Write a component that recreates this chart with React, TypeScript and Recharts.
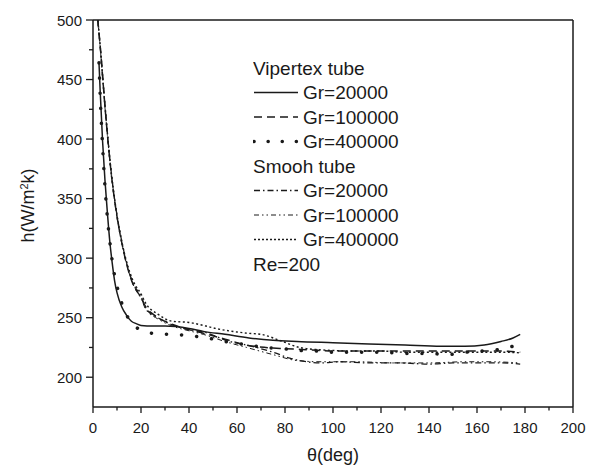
import { LineChart, Line, XAxis, YAxis, ReferenceLine } from 'recharts';

// theta (deg) vs h (W/m2k)
const vip20k: [number, number][] = [
  [2.5, 464], [3, 440], [4, 398], [5, 365], [6, 338], [7, 314], [8, 296], [9, 281], [10, 271],
  [12, 259], [14, 252], [16, 247], [18, 245], [20, 243.5], [25, 243], [30, 243], [40, 241],
  [46, 238.5], [55, 236], [65, 233], [75, 231], [85, 230], [100, 229], [115, 228], [130, 227],
  [145, 226], [155, 226], [163, 227], [170, 230], [175, 233], [178, 236],
];
const vip100k: [number, number][] = [
  [2, 500], [3, 478], [5, 427], [7.5, 373], [10, 335], [12, 313], [14, 295], [16.7, 278],
  [20, 267], [22, 259], [25, 253], [30, 247], [35, 243], [40, 240], [46, 237], [55, 232],
  [64, 227], [72, 225], [80, 224], [90, 223], [100, 222], [120, 222], [140, 222], [160, 222],
  [170, 222], [178, 221],
];
const vip400k: [number, number][] = [
  [2.5, 464], [3, 436], [4, 394], [5, 360], [6, 334], [7, 314], [8.75, 288], [10.3, 274],
  [12, 262], [14.6, 250], [19.6, 240], [26.5, 236.5], [33, 236], [40, 235], [46, 233.5],
  [55, 230], [65, 227], [72, 225], [79, 224], [86, 222.5], [93, 222], [100, 221], [110, 221],
  [120, 221], [130, 220], [140, 220], [148, 219], [155, 221], [162, 222], [168, 223], [175, 226],
];
const smooth20k: [number, number][] = [
  [2, 500], [3, 478], [5, 428], [7.5, 374], [10, 336], [12, 314], [14, 296], [16.7, 279],
  [20, 268], [22, 258], [27, 250], [33, 244], [40, 240], [46, 238], [57, 230], [64, 227],
  [75, 221], [82, 216], [89, 213], [95, 212], [103, 213], [115, 212], [128, 212], [140, 211],
  [150, 212], [160, 212], [170, 212], [178, 211],
];
const smooth100k: [number, number][] = [
  [2, 500], [3, 477], [5, 426], [7.5, 372], [10, 334], [12, 312], [14, 295], [16.7, 278],
  [20, 266], [22, 257], [27, 249], [33, 243], [40, 239], [46, 236], [55, 230], [64, 225],
  [75, 219], [85, 214], [95, 213], [110, 213], [125, 212], [140, 212], [155, 213], [165, 213],
  [178, 212],
];
const smooth400k: [number, number][] = [
  [2, 500], [3, 478], [5, 428], [7.5, 374], [10, 336], [12, 314], [14, 297], [16.7, 281],
  [20, 270], [22, 262], [27, 253], [33, 247], [40, 246], [47, 243], [51, 241], [60, 238],
  [64, 237], [70, 236], [79, 230], [86, 225], [95, 223], [110, 222], [120, 222], [130, 221],
  [140, 221], [150, 221], [160, 221], [170, 221], [178, 220.5],
];

const xTicks = [0, 10, 20, 30, 40, 50, 60, 70, 80, 90, 100, 110, 120, 130, 140, 150, 160, 170, 180, 190, 200];
const yTicks = [200, 225, 250, 275, 300, 325, 350, 375, 400, 425, 450, 475, 500];

const ink = '#1a1a1a';
const font = '"Liberation Sans", Arial, sans-serif';

const series = [
  { name: 'Gr=20000', pts: vip20k, dash: undefined, width: 1.5, cap: 'butt', legendDash: undefined },
  { name: 'Gr=100000', pts: vip100k, dash: '8 5', width: 1.5, cap: 'butt', legendDash: '8 5' },
  { name: 'Gr=400000', pts: vip400k, dash: '0.1 15', width: 3.5, cap: 'round', legendDash: '0.1 14' },
  { name: 'Gr=20000', pts: smooth20k, dash: '6 3 1.5 3', width: 1.3, cap: 'butt', legendDash: '6 3 1.5 3' },
  { name: 'Gr=100000', pts: smooth100k, dash: '5 3 1.5 3 1.5 3', width: 1, cap: 'butt', legendDash: '5 3 1.5 3 1.5 3' },
  { name: 'Gr=400000', pts: smooth400k, dash: '2 2.5', width: 1.4, cap: 'butt', legendDash: '2 2' },
];

const XTick = (props: any) => {
  const { x, y, payload } = props;
  const major = payload.value % 20 === 0;
  return (
    <g>
      <line x1={x} x2={x} y1={y} y2={y + (major ? 6 : 3.5)} stroke={ink} strokeWidth={1.3} />
      {major && (
        <text x={x} y={y + 26} textAnchor="middle" fontSize={15} fill={ink} fontFamily={font}>
          {payload.value}
        </text>
      )}
    </g>
  );
};

const YTick = (props: any) => {
  const { x, y, payload } = props;
  const major = payload.value % 50 === 0;
  return (
    <g>
      <line x1={x} x2={x - (major ? 7 : 4)} y1={y} y2={y} stroke={ink} strokeWidth={1.3} />
      {major && (
        <text x={x - 11} y={y + 5.5} textAnchor="end" fontSize={15} fill={ink} fontFamily={font}>
          {payload.value}
        </text>
      )}
    </g>
  );
};

const YLabel = (props: any) => {
  const vb = props.viewBox;
  const cx = vb.x + 28;
  const cy = vb.y + vb.height / 2 - 8;
  return (
    <text x={cx} y={cy} transform={`rotate(-90 ${cx} ${cy})`} textAnchor="middle" dy="0.35em"
      fontSize={18} fill={ink} fontFamily={font}>
      h(W/m<tspan baselineShift="super" fontSize={11}>2</tspan>k)
    </text>
  );
};

const XLabel = (props: any) => {
  const vb = props.viewBox;
  return (
    <text x={vb.x + vb.width / 2} y={vb.y + 54} textAnchor="middle" fontSize={18} fill={ink} fontFamily={font}>
      θ(deg)
    </text>
  );
};

function LegendBox() {
  const rowH = 24.5;
  const rows: any[] = [
    { title: 'Vipertex tube' },
    series[0], series[1], series[2],
    { title: 'Smooh tube' },
    series[3], series[4], series[5],
    { title: 'Re=200' },
  ];
  return (
    <svg width={220} height={230} style={{ position: 'absolute', left: 253, top: 55 }}>
      {rows.map((r, i) => {
        const cy = 13 + i * rowH;
        if (r.title) {
          return (
            <text key={i} x={0} y={cy} dy="0.35em" fontSize={19} fill={ink} fontFamily={font}>{r.title}</text>
          );
        }
        return (
          <g key={i}>
            <line x1={1} x2={45} y1={cy} y2={cy} stroke={ink} strokeWidth={r.width}
              strokeDasharray={r.legendDash} strokeLinecap={r.cap} />
            <text x={50} y={cy} dy="0.35em" fontSize={19} fill={ink} fontFamily={font}>{r.name}</text>
          </g>
        );
      })}
    </svg>
  );
}

export default function App() {
  return (
    <div style={{ position: 'absolute', left: 0, top: 0, width: 592, height: 470, background: '#fff', fontFamily: font }}>
      <LineChart width={592} height={470} margin={{ top: 20, right: 19, bottom: 0, left: 0 }}>
        <XAxis
          type="number"
          dataKey="t"
          domain={[0, 200]}
          ticks={xTicks}
          interval={0}
          allowDataOverflow
          height={63}
          tickSize={0}
          tickMargin={0}
          tick={<XTick />}
          axisLine={{ stroke: ink, strokeWidth: 1.5 }}
          label={<XLabel />}
        />
        <YAxis
          type="number"
          domain={[175, 500]}
          ticks={yTicks}
          interval={0}
          allowDataOverflow
          width={93}
          tickSize={0}
          tickMargin={0}
          tick={<YTick />}
          axisLine={{ stroke: ink, strokeWidth: 1.5 }}
          label={<YLabel />}
        />
        <ReferenceLine y={500} stroke={ink} strokeWidth={1.5} />
        <ReferenceLine x={200} stroke={ink} strokeWidth={1.5} />
        {series.map((s, i) => (
          <Line
            key={i}
            data={s.pts.map(([t, h]) => ({ t, h }))}
            dataKey="h"
            name={s.name}
            type="monotone"
            stroke={ink}
            strokeWidth={s.width}
            strokeDasharray={s.dash}
            strokeLinecap={s.cap as any}
            dot={false}
            activeDot={false}
            isAnimationActive={false}
          />
        ))}
      </LineChart>
      <LegendBox />
    </div>
  );
}
